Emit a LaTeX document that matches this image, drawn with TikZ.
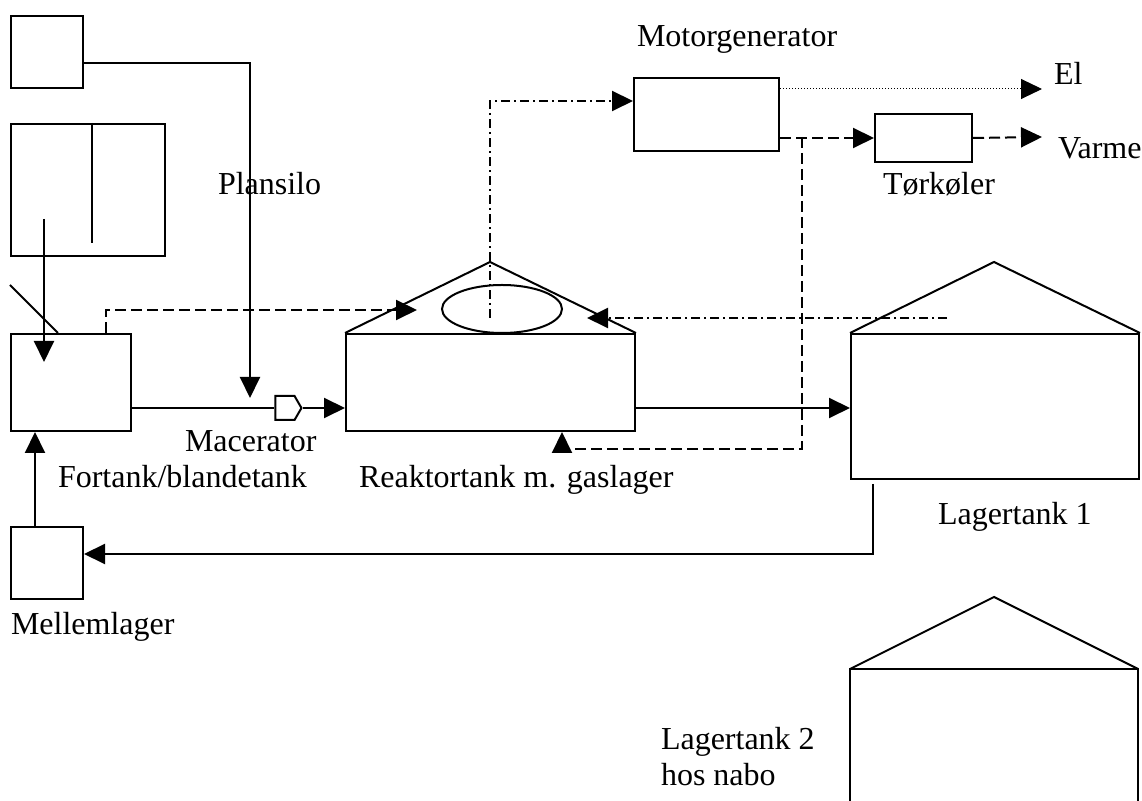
\documentclass[tikz,border=0pt]{standalone}
\usepackage{fontspec}
\setmainfont{Liberation Serif}
\usetikzlibrary{positioning,arrows.meta,shapes.geometric,shapes.symbols}

\begin{document}
\begin{tikzpicture}[x=0.5pt,y=-0.5pt,line width=1pt,
  font=\fontsize{16}{18}\selectfont,
  box/.style={draw,line width=1pt,inner sep=0pt,anchor=north west},
  lbl/.style={inner sep=0pt,anchor=base west},
  flow/.style={-{Triangle[length=10.5pt,width=10pt]}},
  heat/.style={dash pattern=on 5.5pt off 2.5pt},
  gas/.style={dash pattern=on 4.5pt off 2pt on 1pt off 2pt},
  power/.style={line width=.5pt,dash pattern=on .6pt off .9pt}]

\useasboundingbox (0,0) rectangle (1142,801);
\clip (0,0) rectangle (1142,801);

% ================= feed side =================
\node[box,minimum width=36pt,minimum height=36pt] (topbox) at (10,15) {};
\node[box,minimum width=77pt,minimum height=66pt] (silo) at (10,123) {};
\draw ([xshift=41pt]silo.north west) -- (92,243);
\node[lbl] (siloLbl) at (217,195) {Plansilo};
\node[box,minimum width=60pt,minimum height=48.5pt] (fortank) at (10,333) {};
\node[box,minimum width=36pt,minimum height=36pt] (mellem) at (10,526) {};
\node[draw,signal,signal to=east,signal pointer angle=120,
  minimum width=13pt,minimum height=12pt,inner sep=0pt] (mac) at (285,408) {};
\coordinate (chuteA) at (10,285);
\coordinate (chuteB) at (58,333);
\draw (chuteA) -- (chuteB);

\node[lbl] (macLbl) at (184,452) {Macerator};
\node[lbl] (fortankLbl) at (57,488) {Fortank/blandetank};
\node[lbl] (mellemLbl) at (10,635) {Mellemlager};

% ================= reactor and storage =================
\node[box,minimum width=144.5pt,minimum height=48.5pt] (reactor) at (345,333) {};
\coordinate (reactorTop) at (490,262);
\draw (reactor.north west) -- (reactorTop) -- (reactor.north east);
\node[draw,ellipse,minimum width=60pt,minimum height=24pt,inner sep=0pt] (gasstore) at (502,309) {};
\node[lbl] (reactorLbl) at (358,488) {Reaktortank m. gaslager};

\node[box,minimum width=144pt,minimum height=72.5pt] (lager1) at (850,333) {};
\coordinate (lager1Top) at (994,262);
\draw (lager1.north west) -- (lager1Top) -- (lager1.north east);
\node[lbl] (lager1Lbl) at (937,525) {Lagertank 1};

% second tank runs off the page
\draw (850,820) -- (850,669) -- (1138,669) -- (1138,820);
\draw (850,669) -- (994,597) -- (1138,669);
\node[lbl,anchor=north west,align=left] (lager2Lbl) at (660,726) {Lagertank 2\\hos nabo};

% ================= energy side =================
\node[box,minimum width=72.5pt,minimum height=36.5pt] (motor) at (633,77) {};
\node[lbl] (motorLbl) at (636,47) {Motorgenerator};
\node[box,minimum width=48.5pt,minimum height=24pt] (tork) at (874,113) {};
\node[lbl] (torkLbl) at (882,195) {Tørkøler};
\node[lbl] (elLbl) at (1053,85) {El};
\node[lbl] (varmeLbl) at (1057,159) {Varme};
\coordinate (elEnd) at (1042,89);
\coordinate (varmeEnd) at (1042,137);

% ================= connectors =================
% material
\coordinate (feedin) at (250,398);
\draw[flow] ([yshift=-5.5pt]topbox.east) -| (feedin);
\coordinate (siloOut) at (44,219);
\coordinate (siloDrop) at (44,362);
\draw[flow] (siloOut) -- (siloDrop);
\draw (fortank.east |- mac.west) -- (mac.west);
\draw[flow] (mac.east) -- (reactor.west |- mac.east);
\draw[flow] (reactor.east |- mac.east) -- (lager1.west |- mac.east);
\coordinate (retBend) at (873,554);
\draw[flow] ([yshift=-2pt]lager1.south -| retBend) -- (retBend) -- (mellem.east |- retBend);
\draw[flow] ([xshift=-6pt]mellem.north) -- ([xshift=-6pt]mellem.north |- fortank.south);

% heat
\coordinate (ventTop) at (106,310);
\coordinate (gasIn) at (417,310);
\draw[heat,flow] (fortank.north -| ventTop) -- (ventTop) -- (gasIn);
\draw[heat,flow] (motor.east |- tork.west) -- (tork.west);
\draw[heat,flow] (tork.east) -- (varmeEnd);
\coordinate (branch) at (802,137);
\coordinate (heatRet) at (562,449);
\draw[heat,flow] (branch) |- (heatRet) -- (heatRet |- reactor.south);

% gas
\coordinate (gasUp) at (490,318);
\coordinate (gasBend) at (490,101);
\draw[gas,flow] (gasUp) -- (gasBend) -- (motor.west |- gasBend);
\coordinate (gasRecStart) at (947,318);
\coordinate (gasRecEnd) at (587,318);
\draw[gas,flow] (gasRecStart) -- (gasRecEnd);

% power
\draw[power,flow] (motor.east |- elEnd) -- (elEnd);
\end{tikzpicture}
\end{document}
